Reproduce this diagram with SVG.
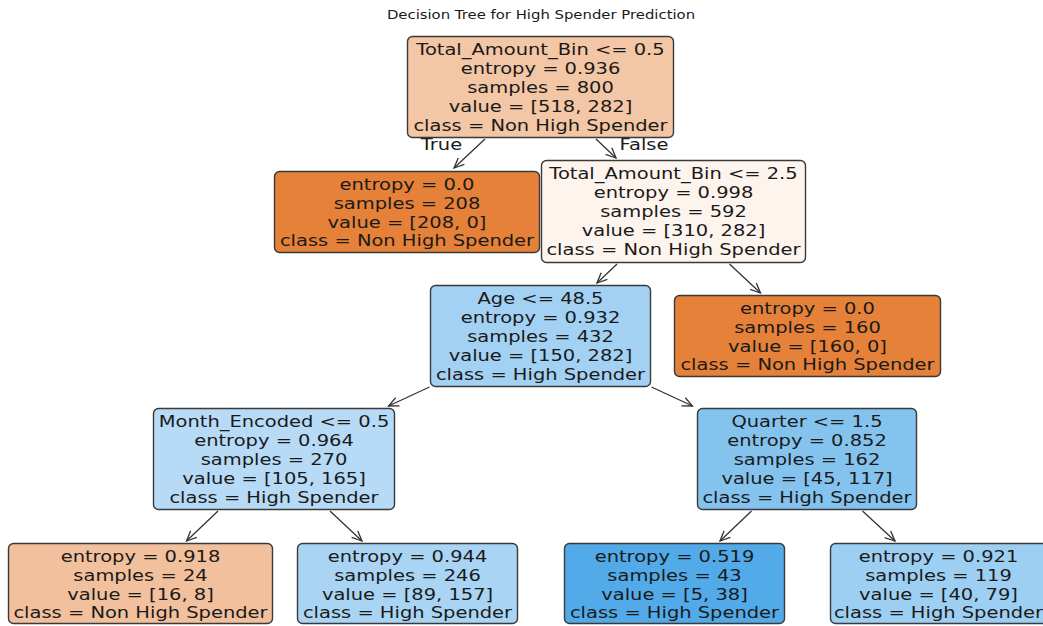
<svg xmlns="http://www.w3.org/2000/svg" width="1043" height="626" viewBox="0 0 1043 626">
<defs>
<marker id="ah" markerUnits="userSpaceOnUse" markerWidth="14" markerHeight="12" viewBox="-11 -6 14 12" refX="0" refY="0" orient="auto">
<path d="M-10,-4.5 L0,0 L-10,4.5" fill="none" stroke="#333" stroke-width="1.3"/>
</marker>
<style>
.box{stroke:#3a3a3a;stroke-width:1.4}
.t{font-family:"DejaVu Sans","Liberation Sans",sans-serif;font-size:16.5px;fill:#1a1a1a;text-anchor:middle}
.title{font-family:"DejaVu Sans","Liberation Sans",sans-serif;font-size:12.5px;fill:#1a1a1a;text-anchor:middle}
.e{stroke:#333;stroke-width:1.3;fill:none;marker-end:url(#ah)}
</style>
</defs>
<rect width="1043" height="626" fill="#ffffff"/>
<text class="title" transform="translate(541,19) scale(1.19,1)">Decision Tree for High Spender Prediction</text>

<g id="connectors">
<line class="e" x1="485" y1="139" x2="454" y2="168"/>
<line class="e" x1="596" y1="139" x2="616" y2="158"/>
<line class="e" x1="617" y1="264" x2="597" y2="283"/>
<line class="e" x1="729.5" y1="264" x2="760.5" y2="293"/>
<line class="e" x1="429.5" y1="387" x2="388.5" y2="406"/>
<line class="e" x1="651.5" y1="387" x2="692.5" y2="406"/>
<line class="e" x1="218" y1="511" x2="186.5" y2="541"/>
<line class="e" x1="330" y1="511" x2="362" y2="541"/>
<line class="e" x1="751.5" y1="511" x2="720" y2="541"/>
<line class="e" x1="862.5" y1="511" x2="895" y2="541"/>
<text class="t" transform="translate(441.5,149.5) scale(1.18,1)">True</text>
<text class="t" transform="translate(644,149.5) scale(1.18,1)">False</text>
</g>

<g id="n0">
<rect class="box" x="407.5" y="36.5" width="266" height="101" rx="5" fill="#f3c6a5"/>
<text class="t" transform="translate(540.5,0) scale(1.18,1)"><tspan x="0" y="55.5">Total_Amount_Bin &lt;= 0.5</tspan><tspan x="0" y="74.3">entropy = 0.936</tspan><tspan x="0" y="93.1">samples = 800</tspan><tspan x="0" y="111.9">value = [518, 282]</tspan><tspan x="0" y="130.7">class = Non High Spender</tspan></text>
</g>

<g id="n1">
<rect class="box" x="274.5" y="171.5" width="265" height="81" rx="5" fill="#e58139"/>
<text class="t" transform="translate(407,0) scale(1.18,1)"><tspan x="0" y="190">entropy = 0.0</tspan><tspan x="0" y="208.8">samples = 208</tspan><tspan x="0" y="227.6">value = [208, 0]</tspan><tspan x="0" y="246.4">class = Non High Spender</tspan></text>
</g>

<g id="n2">
<rect class="box" x="541.5" y="160.5" width="264" height="102" rx="5" fill="#fdf4ed"/>
<text class="t" transform="translate(673.5,0) scale(1.18,1)"><tspan x="0" y="179.5">Total_Amount_Bin &lt;= 2.5</tspan><tspan x="0" y="198.3">entropy = 0.998</tspan><tspan x="0" y="217.1">samples = 592</tspan><tspan x="0" y="235.9">value = [310, 282]</tspan><tspan x="0" y="254.7">class = Non High Spender</tspan></text>
</g>

<g id="n3">
<rect class="box" x="430.5" y="285.5" width="220" height="101" rx="5" fill="#a2d1f3"/>
<text class="t" transform="translate(540.5,0) scale(1.18,1)"><tspan x="0" y="304.5">Age &lt;= 48.5</tspan><tspan x="0" y="323.3">entropy = 0.932</tspan><tspan x="0" y="342.1">samples = 432</tspan><tspan x="0" y="360.9">value = [150, 282]</tspan><tspan x="0" y="379.7">class = High Spender</tspan></text>
</g>

<g id="n4">
<rect class="box" x="674.5" y="295.5" width="266" height="81" rx="5" fill="#e58139"/>
<text class="t" transform="translate(807.5,0) scale(1.18,1)"><tspan x="0" y="314">entropy = 0.0</tspan><tspan x="0" y="332.8">samples = 160</tspan><tspan x="0" y="351.6">value = [160, 0]</tspan><tspan x="0" y="370.4">class = Non High Spender</tspan></text>
</g>

<g id="n5">
<rect class="box" x="153.5" y="408.5" width="241" height="101" rx="5" fill="#b7dbf6"/>
<text class="t" transform="translate(274,0) scale(1.18,1)"><tspan x="0" y="427.5">Month_Encoded &lt;= 0.5</tspan><tspan x="0" y="446.3">entropy = 0.964</tspan><tspan x="0" y="465.1">samples = 270</tspan><tspan x="0" y="483.9">value = [105, 165]</tspan><tspan x="0" y="502.7">class = High Spender</tspan></text>
</g>

<g id="n6">
<rect class="box" x="697.5" y="408.5" width="219" height="101" rx="5" fill="#85c3ef"/>
<text class="t" transform="translate(807,0) scale(1.18,1)"><tspan x="0" y="427.5">Quarter &lt;= 1.5</tspan><tspan x="0" y="446.3">entropy = 0.852</tspan><tspan x="0" y="465.1">samples = 162</tspan><tspan x="0" y="483.9">value = [45, 117]</tspan><tspan x="0" y="502.7">class = High Spender</tspan></text>
</g>

<g id="n7">
<rect class="box" x="8.5" y="543.5" width="264" height="80" rx="5" fill="#f2c09c"/>
<text class="t" transform="translate(140.5,0) scale(1.18,1)"><tspan x="0" y="562">entropy = 0.918</tspan><tspan x="0" y="580.8">samples = 24</tspan><tspan x="0" y="599.6">value = [16, 8]</tspan><tspan x="0" y="618.4">class = Non High Spender</tspan></text>
</g>

<g id="n8">
<rect class="box" x="297.5" y="543.5" width="220" height="80" rx="5" fill="#a9d4f4"/>
<text class="t" transform="translate(407.5,0) scale(1.18,1)"><tspan x="0" y="562">entropy = 0.944</tspan><tspan x="0" y="580.8">samples = 246</tspan><tspan x="0" y="599.6">value = [89, 157]</tspan><tspan x="0" y="618.4">class = High Spender</tspan></text>
</g>

<g id="n9">
<rect class="box" x="564.5" y="543.5" width="220" height="80" rx="5" fill="#53aae8"/>
<text class="t" transform="translate(674.5,0) scale(1.18,1)"><tspan x="0" y="562">entropy = 0.519</tspan><tspan x="0" y="580.8">samples = 43</tspan><tspan x="0" y="599.6">value = [5, 38]</tspan><tspan x="0" y="618.4">class = High Spender</tspan></text>
</g>

<g id="n10">
<rect class="box" x="830.5" y="543.5" width="220" height="80" rx="5" fill="#9dcff2"/>
<text class="t" transform="translate(938.5,0) scale(1.18,1)"><tspan x="0" y="562">entropy = 0.921</tspan><tspan x="0" y="580.8">samples = 119</tspan><tspan x="0" y="599.6">value = [40, 79]</tspan><tspan x="0" y="618.4">class = High Spender</tspan></text>
</g>
</svg>
